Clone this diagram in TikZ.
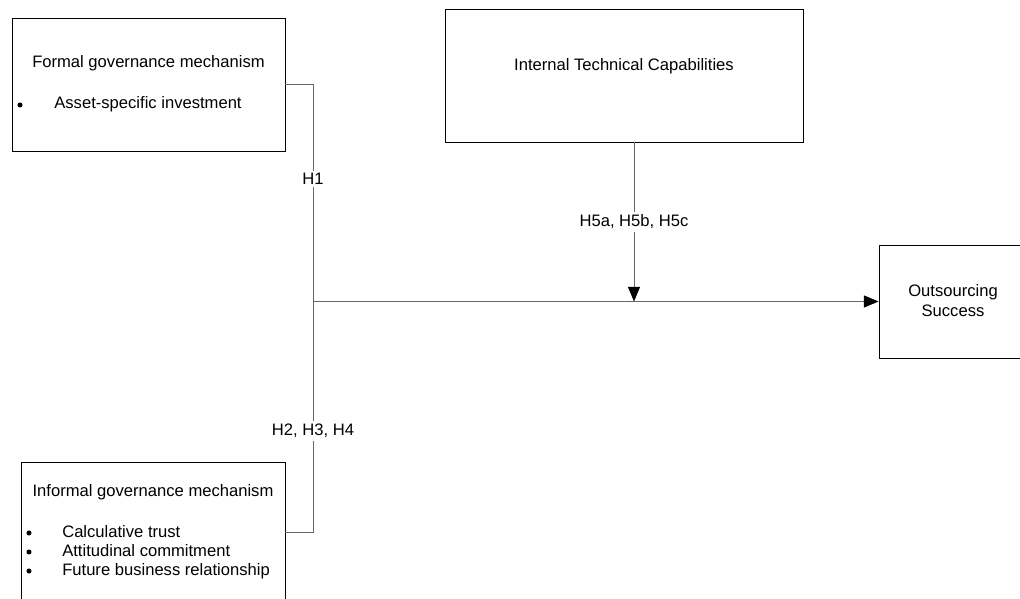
\documentclass[tikz,border=0pt]{standalone}
\usepackage{fontspec}
\setmainfont{Liberation Sans}
\usetikzlibrary{arrows.meta}
\begin{document}
\begin{tikzpicture}[x=0.75pt,y=-0.75pt,
  font=\fontsize{12.45}{15}\selectfont,
  box/.style={draw=black,line width=0.65pt,inner sep=0pt},
  conn/.style={draw=black!60,line width=0.75pt},
  tip/.style={-{Triangle[length=11pt,width=9pt,color=black]}},
  lbl/.style={fill=white,inner sep=2pt},
  txt/.style={inner sep=0pt,anchor=center},
  dot/.style={circle,fill=black,inner sep=0pt,minimum size=3.8pt},
  item/.style={inner sep=0pt,anchor=west}]
\clip (0,0) rectangle (1020,599);
\fill[white] (0,0) rectangle (1020,599);
% boxes
\node[box,minimum width=204.75pt,minimum height=99.75pt] (formal) at (148.5,84.5) {};
\node[box,minimum width=198pt,minimum height=105pt] (informal) at (153,532) {};
\node[box,minimum width=268.5pt,minimum height=99.75pt] (itc) at (624,75.5) {};
\node[box,minimum width=112.5pt,minimum height=84.75pt] (outs) at (954,301.5) {};
% texts
\node[txt] (formalT) at (148.5,63) {Formal governance mechanism};
\node[dot] (formalB) at (20,105) {};
\node[txt] (formalI) at (148,104) {Asset-specific investment};
\node[txt] (informalT) at (153,492) {Informal governance mechanism};
\node[dot] (b1) at (29,533) {};
\node[dot] (b2) at (29,552) {};
\node[dot] (b3) at (29,571) {};
\node[item] (i1) at (62,532) {Calculative trust};
\node[item] (i2) at (62,551) {Attitudinal commitment};
\node[item] (i3) at (62,571) {Future business relationship};
\node[txt] (itcT) at (624,66) {Internal Technical Capabilities};
\node[txt,align=center] (outsT) at (953,301) {Outsourcing\\Success};
% junctions
\coordinate (jtop) at (313,84.5);
\coordinate (jmid) at (313,301.5);
\coordinate (jbot) at (313,532);
\coordinate (mtip) at (634,301.5);
% connectors
\draw[conn] (formal.east) -- (jtop) -- (jbot) -- (informal.east);
\draw[conn,tip] (jmid) -- (outs.west);
\draw[conn,tip] (mtip |- itc.south) -- (mtip);
% labels
\node[lbl] (h1) at (313,179) {H1};
\node[lbl] (h2) at (313,431) {H2, H3, H4};
\node[lbl] (h5) at (634,222) {H5a, H5b, H5c};
\end{tikzpicture}
\end{document}
